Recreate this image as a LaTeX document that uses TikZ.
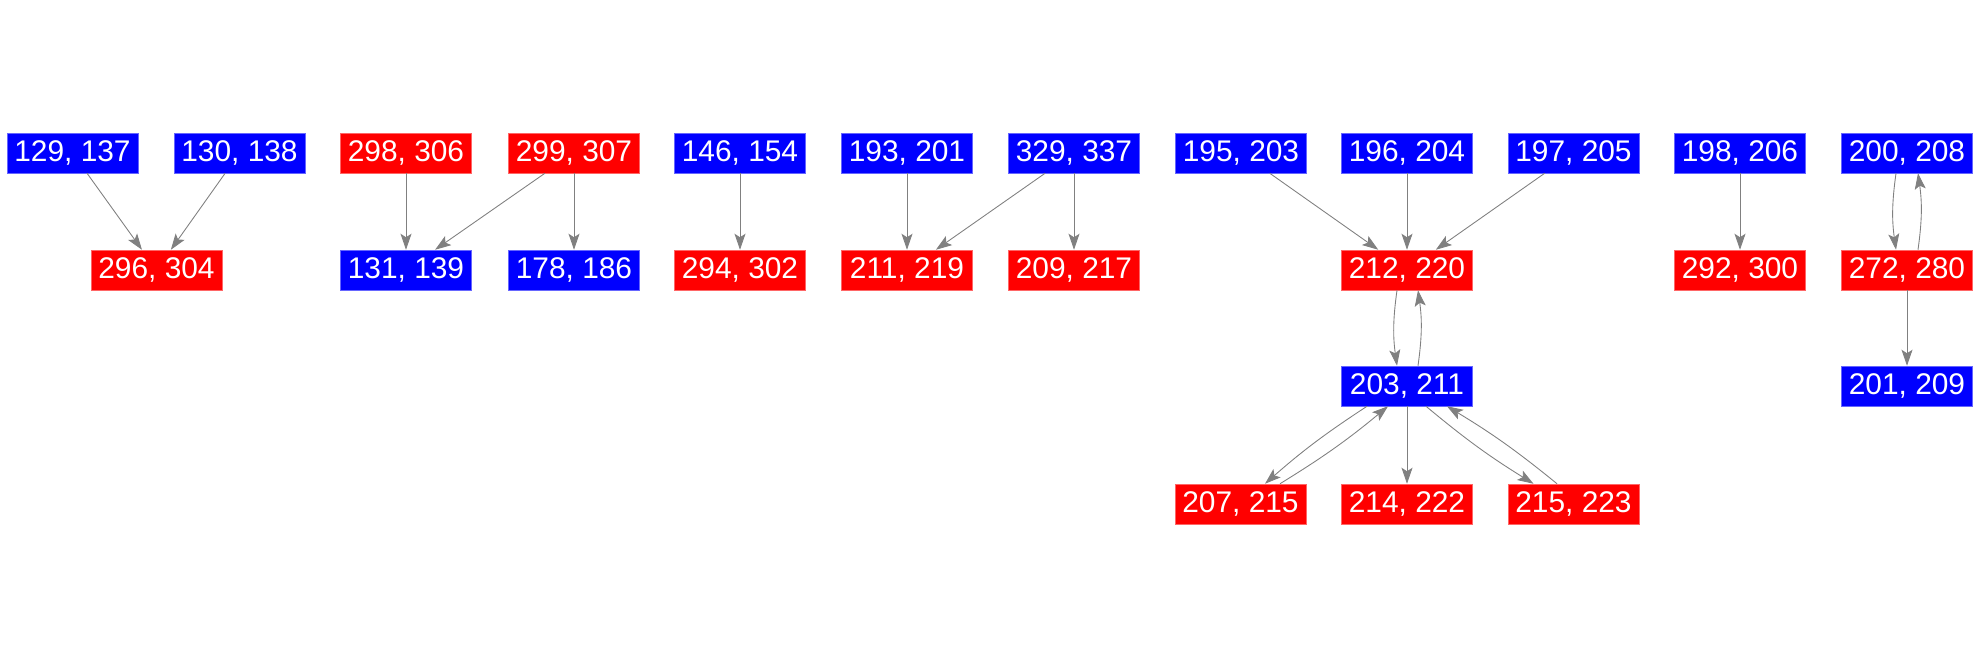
\documentclass[tikz,border=0pt]{standalone}
\usepackage{fontspec}
\setmainfont{Liberation Sans}
\usetikzlibrary{arrows.meta}

\begin{document}
\begin{tikzpicture}[x=0.02cm, y=-0.02cm,
    bluebox/.style={rectangle, fill=blue, draw=blue!60!white, line width=0.3pt, text=white,
      minimum width=2.62cm, minimum height=0.8cm, inner sep=0pt, font=\fontsize{17}{19}\selectfont},
    redbox/.style={bluebox, fill=red, draw=red!60!white},
    edge/.style={draw=gray, line width=0.5pt, -{Stealth[length=0.32cm, width=0.22cm, inset=0.07cm]}}]
  \useasboundingbox (0,0) rectangle (1979,656);

  % first group
  \node[bluebox] (n129) at (72.5,153) {129, 137};
  \node[bluebox] (n130) at (239.5,153) {130, 138};
  \node[redbox] (n296) at (156.5,270) {296, 304};
  \draw[edge] (n129) -- (n296);
  \draw[edge] (n130) -- (n296);

  % second group
  \node[redbox] (n298) at (406,153) {298, 306};
  \node[redbox] (n299) at (574,153) {299, 307};
  \node[bluebox] (n131) at (406,270) {131, 139};
  \node[bluebox] (n178) at (574,270) {178, 186};
  \draw[edge] (n298) -- (n131);
  \draw[edge] (n299) -- (n131);
  \draw[edge] (n299) -- (n178);

  % third group
  \node[bluebox] (n146) at (740,153) {146, 154};
  \node[redbox] (n294) at (740,270) {294, 302};
  \draw[edge] (n146) -- (n294);

  % fourth group
  \node[bluebox] (n193) at (907,153) {193, 201};
  \node[bluebox] (n329) at (1074,153) {329, 337};
  \node[redbox] (n211) at (907,270) {211, 219};
  \node[redbox] (n209) at (1074,270) {209, 217};
  \draw[edge] (n193) -- (n211);
  \draw[edge] (n329) -- (n211);
  \draw[edge] (n329) -- (n209);

  % big group
  \node[bluebox] (n195) at (1241,153) {195, 203};
  \node[bluebox] (n196) at (1407,153) {196, 204};
  \node[bluebox] (n197) at (1573.5,153) {197, 205};
  \node[redbox] (n212) at (1407,270) {212, 220};
  \node[bluebox] (n203) at (1407,386) {203, 211};
  \node[redbox] (n207) at (1240.5,504) {207, 215};
  \node[redbox] (n214) at (1407,504) {214, 222};
  \node[redbox] (n215) at (1573.5,504) {215, 223};
  \draw[edge] (n195) -- (n212);
  \draw[edge] (n196) -- (n212);
  \draw[edge] (n197) -- (n212);
  % both ways between 212 and 203
  \draw[edge] ([xshift=-0.2cm]n212.south) to[bend right=8] ([xshift=-0.2cm]n203.north);
  \draw[edge] ([xshift=0.22cm]n203.north) to[bend right=8] ([xshift=0.22cm]n212.south);
  \draw[edge] ([xshift=-0.8cm]n203.south) to[bend right=4] ([xshift=0.49cm]n207.north);
  \draw[edge] ([xshift=0.79cm]n207.north) to[bend right=4] ([xshift=-0.38cm]n203.south);
  \draw[edge] (n203) -- (n214);
  \draw[edge] ([xshift=0.38cm]n203.south) to[bend right=4] ([xshift=-0.8cm]n215.north);
  \draw[edge] ([xshift=-0.33cm]n215.north) to[bend right=4] ([xshift=0.8cm]n203.south);

  % last groups
  \node[bluebox] (n198) at (1740,153) {198, 206};
  \node[redbox] (n292) at (1740,270) {292, 300};
  \draw[edge] (n198) -- (n292);

  \node[bluebox] (n200) at (1907,153) {200, 208};
  \node[redbox] (n272) at (1907,270) {272, 280};
  \node[bluebox] (n201) at (1907,386) {201, 209};
  \draw[edge] ([xshift=-0.22cm]n200.south) to[bend right=8] ([xshift=-0.22cm]n272.north);
  \draw[edge] ([xshift=0.22cm]n272.north) to[bend right=8] ([xshift=0.22cm]n200.south);
  \draw[edge] (n272) -- (n201);
\end{tikzpicture}
\end{document}
